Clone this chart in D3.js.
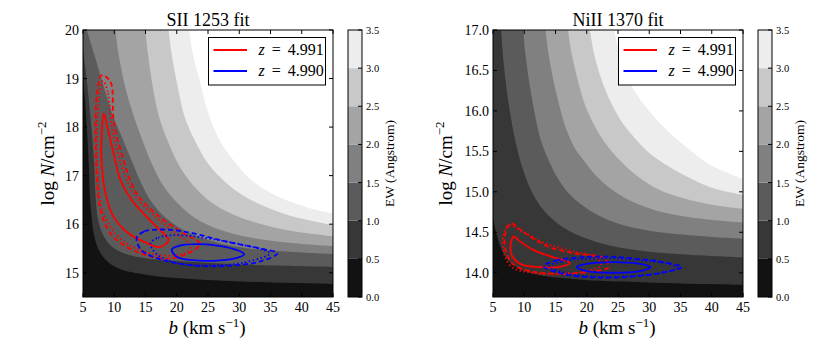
<!DOCTYPE html>
<html>
<head>
<meta charset="utf-8">
<script src="https://cdn.jsdelivr.net/npm/d3@7"></script>
<style>
  body { margin: 0; background: #fff; }
  svg { display: block; }
  text { font-family: "Liberation Serif", "DejaVu Serif", serif; fill: #000; }
</style>
</head>
<body>
<svg id="chart" width="830" height="342"></svg>
<script>
// EW levels of the filled contours (Angstrom)
const levels = [0.5, 1.0, 1.5, 2.0, 2.5, 3.0, 3.5];
const cbTicks = [0.0, 0.5, 1.0, 1.5, 2.0, 2.5, 3.0, 3.5];
const bTicks = [5, 10, 15, 20, 25, 30, 35, 40, 45];
const siiNTicks = [15, 16, 17, 18, 19, 20];
const niiNTicks = [14.0, 14.5, 15.0, 15.5, 16.0, 16.5, 17.0];

// SII 1253: EW boundaries [b, logN], one per level
const siiBoundaries = [
    [[5,19.02],[5.3,18.6],[5.6,18.0],[5.9,17.3],[6.1,16.6],[6.4,16.1],[6.8,15.75],[7.6,15.45],[9,15.22],[11,15.07],[15,14.96],[20,14.89],[30,14.82],[45,14.77]],
    [[5,19.62],[5.4,19.2],[5.9,18.6],[6.4,17.9],[6.8,17.2],[7.0,16.6],[7.4,16.1],[8.2,15.78],[9.5,15.55],[11.5,15.4],[15,15.3],[20,15.24],[27,15.19],[35,15.15],[45,15.12]],
    [[5.6,20],[6.8,19.5],[8.4,18.8],[9.9,18.2],[11.2,17.8],[12.8,17.3],[14.3,16.85],[16,16.45],[18.5,16.1],[22,15.82],[26,15.64],[31,15.51],[38,15.43],[45,15.38]],
    [[10.2,20],[10.7,19.5],[11.8,18.8],[13.2,18.2],[14.6,17.7],[16.0,17.25],[17.8,16.8],[20,16.45],[23,16.12],[27,15.88],[32,15.72],[38,15.62],[45,15.55]],
    [[15.0,20],[15.4,19.5],[16.2,18.8],[17.2,18.2],[18.6,17.7],[20.2,17.25],[22.5,16.82],[25.5,16.45],[29,16.2],[33,16.02],[38,15.87],[45,15.75]],
    [[18.7,20],[19.2,19.5],[20.2,18.8],[21.3,18.2],[23,17.7],[25,17.25],[27.5,16.9],[30.5,16.6],[34,16.37],[38,16.18],[45,15.98]],
    [[22.0,20],[22.6,19.5],[23.6,19.0],[25.0,18.3],[27.0,17.7],[29.5,17.25],[32,16.9],[35,16.65],[38,16.47],[41,16.34],[45,16.22]]
];

// NiII 1370: EW boundaries [b, logN]
const niiBoundaries = [
    [[5,14.69],[5.5,14.5],[6.2,14.32],[7.2,14.17],[8.5,14.08],[10,14.02],[13,13.96],[17,13.93],[22,13.9],[30,13.88],[38,13.86],[45,13.85]],
    [[6.3,17],[6.7,16.6],[7.2,16.25],[7.9,15.9],[8.8,15.55],[9.9,15.25],[11.2,15.0],[13,14.78],[15.5,14.6],[19,14.45],[24,14.33],[30,14.26],[37,14.22],[45,14.19]],
    [[9.85,17],[10.2,16.7],[10.8,16.35],[11.6,16.0],[12.6,15.65],[13.9,15.39],[15.5,15.15],[17.5,14.95],[20.5,14.77],[24.5,14.62],[30,14.52],[37,14.46],[45,14.42]],
    [[13.4,17],[13.9,16.7],[14.6,16.4],[15.5,16.1],[16.6,15.8],[18,15.55],[19.5,15.39],[21.5,15.2],[24,15.03],[27.5,14.87],[32,14.75],[38,14.67],[45,14.62]],
    [[17,17],[17.6,16.7],[18.5,16.4],[19.6,16.1],[21,15.85],[22.8,15.62],[25.3,15.39],[28,15.2],[31.5,15.03],[35.5,14.92],[40,14.84],[45,14.79]],
    [[20.5,17],[21.2,16.7],[22.3,16.4],[23.6,16.15],[25.3,15.9],[27.5,15.68],[30,15.48],[33,15.32],[36.5,15.17],[40,15.05],[45,14.96]],
    [[24.4,17],[25.3,16.7],[26.6,16.4],[28.2,16.18],[30.5,15.95],[33,15.75],[36,15.55],[39,15.37],[42,15.25],[45,15.16]]
];

// confidence contours [b, logN]
const siiRedSolid = [[8.3,18.28],[8.9,18.0],[9.9,17.46],[11.0,16.91],[12.8,16.5],[15.2,16.15],[17.3,15.88],[18.7,15.67],[17.3,15.53],[14.7,15.64],[12.0,15.84],[9.9,16.15],[8.6,16.63],[8.0,17.25],[8.0,17.87]];
const siiRedDashed = [[8.0,19.07],[9.4,18.93],[9.9,18.14],[11.0,17.53],[13.6,16.63],[17.3,16.15],[21.1,15.81],[23.7,15.6],[22.7,15.46],[18.9,15.29],[15.2,15.36],[12.0,15.53],[9.4,15.81],[7.8,16.29],[7.2,16.98],[7.0,17.8],[7.2,18.63]];
const siiRedDotted = [[8.2,18.95],[9.0,18.7],[9.5,18.1],[10.5,17.5],[13.0,16.65],[16.6,16.15],[20.2,15.78],[22.3,15.55],[21.5,15.42],[18.5,15.35],[15.2,15.42],[12.0,15.6],[9.6,15.9],[8.0,16.35],[7.4,17.0],[7.2,17.8],[7.5,18.5]];
const siiBlueSolid = [[19.2,15.48],[20.5,15.56],[23.7,15.59],[27,15.55],[29.8,15.46],[30.8,15.38],[29.5,15.3],[26.5,15.25],[22.5,15.26],[20,15.33]];
const siiBlueDashed = [[13.6,15.72],[14.8,15.85],[17.3,15.89],[20,15.87],[22.7,15.81],[28,15.64],[33.3,15.5],[36.1,15.4],[33.3,15.23],[28,15.14],[22.7,15.15],[17.3,15.28],[14.3,15.47]];
const siiBlueDotted = [[15.8,15.6],[17,15.72],[19,15.77],[22,15.76],[25.3,15.7],[30.7,15.57],[34.9,15.4],[30.7,15.21],[25.3,15.15],[20,15.2],[16.8,15.38]];

const niiRedSolid = [[8.3,14.45],[9.1,14.4],[11.5,14.28],[14.7,14.19],[17.3,14.12],[15.5,14.07],[12.6,14.07],[9.6,14.1],[8.1,14.2],[7.8,14.32]];
const niiRedDashed = [[7.8,14.61],[9.9,14.5],[13.6,14.33],[17.9,14.24],[22.7,14.18],[23.5,14.07],[20.5,14.01],[16.3,13.99],[11.5,14.01],[8.3,14.1],[7.0,14.28],[7.0,14.49]];
const niiRedDotted = [[7.5,14.58],[9.5,14.52],[13.2,14.37],[17.5,14.27],[21.5,14.19],[22.3,14.09],[20,14.02],[16,13.98],[11.2,14.0],[8.0,14.07],[6.7,14.26],[6.7,14.47]];
const niiBlueSolid = [[18.4,14.07],[20,14.11],[24.3,14.13],[28.5,14.11],[30.2,14.07],[28.5,14.02],[24.3,14.0],[20,14.02]];
const niiBlueDashed = [[13.1,14.08],[15,14.15],[19,14.19],[23,14.2],[27,14.18],[31.5,14.14],[35.2,14.07],[32,14.0],[27,13.95],[21.6,13.94],[16.5,13.98]];
const niiBlueDotted = [[14,14.08],[16,14.14],[19.5,14.17],[24,14.18],[29,14.15],[33,14.11],[34.5,14.06],[32,14.0],[27,13.96],[21.6,13.95],[17,13.99]];

const legendZ = ['4.991', '4.990'];
const legendColors = ['#ff0000', '#0000ff'];

const panels = [
    {
        title: 'SII 1253 fit', left: 83, yDomain: [14.5, 20], yTicks: siiNTicks, yFmt: d3.format('d'),
        boundaries: siiBoundaries,
        contours: [
            [siiRedDashed, '#ff0000', '5,3'], [siiRedDotted, '#ff0000', '1.5,2.5'], [siiRedSolid, '#ff0000', null],
            [siiBlueDashed, '#0000ff', '5,3'], [siiBlueDotted, '#0000ff', '1.5,2.5'], [siiBlueSolid, '#0000ff', null]
        ]
    },
    {
        title: 'NiII 1370 fit', left: 493, yDomain: [13.7, 17], yTicks: niiNTicks, yFmt: d3.format('.1f'),
        boundaries: niiBoundaries,
        contours: [
            [niiRedDashed, '#ff0000', '5,3'], [niiRedDotted, '#ff0000', '1.5,2.5'], [niiRedSolid, '#ff0000', null],
            [niiBlueDashed, '#0000ff', '5,3'], [niiBlueDotted, '#0000ff', '1.5,2.5'], [niiBlueSolid, '#0000ff', null]
        ]
    }
];

const svg = d3.select('#chart');
const W = 250, H = 267, TOP = 30;
const gray = d3.scaleLinear().domain([0, 3.5]).range(['#000', '#fff']).clamp(true);

panels.forEach((p, pi) => {
    const x = d3.scaleLinear().domain([5, 45]).range([p.left, p.left + W]);
    const y = d3.scaleLinear().domain(p.yDomain).range([TOP + H, TOP]);
    const yMax = p.yDomain[1];

    const clipId = 'clip' + pi;
    svg.append('clipPath').attr('id', clipId)
        .append('rect').attr('x', p.left).attr('y', TOP).attr('width', W).attr('height', H);

    const g = svg.append('g').attr('clip-path', `url(#${clipId})`);

    // filled EW contours
    g.append('rect')
        .attr('x', p.left).attr('y', TOP).attr('width', W).attr('height', H)
        .attr('fill', gray(0.25));

    const edge = d3.line().x(d => x(d[0])).y(d => y(d[1])).curve(d3.curveCatmullRom);
    g.selectAll('path.band')
        .data(p.boundaries)
        .join('path')
        .attr('class', 'band')
        .attr('d', pts => edge(pts) + `L${x(45) + 2},${y(pts[pts.length - 1][1])}L${x(45) + 2},${y(yMax) - 2}L${x(pts[0][0]) - 2},${y(yMax) - 2}L${x(pts[0][0]) - 2},${y(pts[0][1])}Z`)
        .attr('fill', (d, i) => gray(levels[i] + 0.25));

    // confidence contours
    const ring = d3.line().x(d => x(d[0])).y(d => y(d[1])).curve(d3.curveCatmullRomClosed.alpha(0.5));
    g.selectAll('path.ring')
        .data(p.contours)
        .join('path')
        .attr('class', 'ring')
        .attr('d', d => ring(d[0]))
        .attr('fill', 'none')
        .attr('stroke', d => d[1])
        .attr('stroke-width', 1.8)
        .attr('stroke-dasharray', d => d[2]);

    // frame and inward ticks on all sides
    const axes = svg.append('g');
    axes.append('rect')
        .attr('x', p.left).attr('y', TOP).attr('width', W).attr('height', H)
        .attr('fill', 'none').attr('stroke', '#000').attr('stroke-width', 1);

    axes.selectAll('line.xt')
        .data(bTicks.flatMap(t => [[t, TOP + H, -4], [t, TOP, 4]]))
        .join('line')
        .attr('x1', d => x(d[0])).attr('x2', d => x(d[0]))
        .attr('y1', d => d[1]).attr('y2', d => d[1] + d[2])
        .attr('stroke', '#000');
    axes.selectAll('line.yt')
        .data(p.yTicks.flatMap(t => [[t, p.left, 4], [t, p.left + W, -4]]))
        .join('line')
        .attr('y1', d => y(d[0])).attr('y2', d => y(d[0]))
        .attr('x1', d => d[1]).attr('x2', d => d[1] + d[2])
        .attr('stroke', '#000');

    axes.selectAll('text.xl')
        .data(bTicks)
        .join('text')
        .attr('x', d => x(d)).attr('y', TOP + H + 15)
        .attr('text-anchor', 'middle').attr('font-size', 14)
        .text(d => d);
    axes.selectAll('text.yl')
        .data(p.yTicks)
        .join('text')
        .attr('x', p.left - 4).attr('y', d => y(d) + 5)
        .attr('text-anchor', 'end').attr('font-size', 14)
        .text(d => p.yFmt(d));

    // title
    svg.append('text')
        .attr('x', p.left + W / 2).attr('y', 26)
        .attr('text-anchor', 'middle').attr('font-size', 18)
        .text(p.title);

    // x label: b (km s^-1)
    const xl = svg.append('text')
        .attr('x', p.left + W / 2 - 1).attr('y', 334)
        .attr('text-anchor', 'middle').attr('font-size', 19);
    xl.append('tspan').attr('font-style', 'italic').text('b');
    xl.append('tspan').text(' (km s');
    xl.append('tspan').attr('font-size', 13).attr('dy', -7).text('\u22121');
    xl.append('tspan').attr('dy', 7).text(')');

    // y label: log N/cm^-2
    const ylx = p.left - (pi === 0 ? 29 : 41);
    const yl = svg.append('text')
        .attr('transform', `translate(${ylx},${TOP + H / 2}) rotate(-90)`)
        .attr('text-anchor', 'middle').attr('font-size', 19);
    yl.append('tspan').text('log ');
    yl.append('tspan').attr('font-style', 'italic').text('N');
    yl.append('tspan').text('/cm');
    yl.append('tspan').attr('font-size', 13).attr('dy', -8).text('\u22122');

    // legend
    const lg = svg.append('g');
    const lx = p.left + 125.5, ly = 37.5;
    lg.append('rect')
        .attr('x', lx).attr('y', ly).attr('width', 117).attr('height', 47.5)
        .attr('fill', '#fff').attr('stroke', '#000').attr('stroke-width', 1);
    legendZ.forEach((z, i) => {
        const yy = ly + 12.5 + i * 21;
        lg.append('line')
            .attr('x1', lx + 5).attr('x2', lx + 38.5)
            .attr('y1', yy).attr('y2', yy)
            .attr('stroke', legendColors[i]).attr('stroke-width', 2);
        const t = lg.append('text').attr('x', lx + 50).attr('y', yy + 5).attr('font-size', 16);
        t.append('tspan').attr('font-style', 'italic').text('z');
        t.append('tspan').attr('dx', 7).text('=');
        t.append('tspan').attr('dx', 7).text(z);
    });

    // colorbar
    const cbx = p.left + 265;
    const cy = d3.scaleLinear().domain([0, 3.5]).range([TOP + H, TOP]);
    const cb = svg.append('g');
    cb.selectAll('rect.cb')
        .data(d3.pairs(cbTicks))
        .join('rect')
        .attr('x', cbx).attr('width', 14)
        .attr('y', d => cy(d[1])).attr('height', d => cy(d[0]) - cy(d[1]))
        .attr('fill', d => gray((d[0] + d[1]) / 2));
    cb.append('rect')
        .attr('x', cbx).attr('y', TOP).attr('width', 14).attr('height', H)
        .attr('fill', 'none').attr('stroke', '#000');
    cb.selectAll('line.ct')
        .data(cbTicks)
        .join('line')
        .attr('x1', cbx + 14).attr('x2', cbx + 10)
        .attr('y1', d => cy(d)).attr('y2', d => cy(d))
        .attr('stroke', '#000');
    cb.selectAll('text.ctl')
        .data(cbTicks)
        .join('text')
        .attr('x', cbx + 18).attr('y', d => cy(d) + 4)
        .attr('font-size', 10.5)
        .text(d => d3.format('.1f')(d));
    cb.append('text')
        .attr('transform', `translate(${cbx + 46},${TOP + H / 2}) rotate(-90)`)
        .attr('text-anchor', 'middle').attr('font-size', 13.5)
        .text('EW (Angstrom)');
});
</script>
</body>
</html>
